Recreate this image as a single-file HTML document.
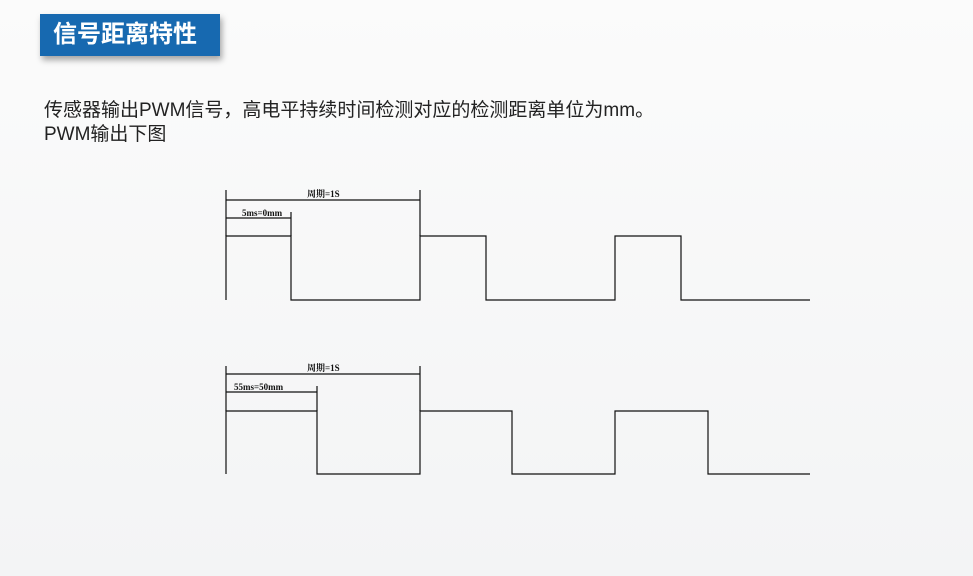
<!DOCTYPE html>
<html><head><meta charset="utf-8"><style>
body{margin:0;width:973px;height:576px;background:linear-gradient(#fbfbfb,#f3f4f5);position:relative;overflow:hidden;font-family:"Liberation Sans","Noto Sans CJK SC",sans-serif}
.t{position:absolute;left:40px;top:14px;width:180px;height:42px;background:#1769b0;color:#fff;font-size:24px;font-weight:bold;line-height:42px;padding-left:13px;box-sizing:border-box;box-shadow:2px 4px 6px rgba(0,0,0,.35)}
.p{position:absolute;left:44px;top:99px;font-size:19px;line-height:24px;color:#222}
svg{position:absolute;left:0;top:0}
</style></head><body>
<div class="t">信号距离特性</div>
<div class="p">传感器输出PWM信号，高电平持续时间检测对应的检测距离单位为mm。<br>PWM输出下图</div>
<svg width="973" height="576" font-family="Liberation Serif,Noto Serif CJK SC,serif" font-size="9" font-weight="bold" fill="#111">
<g stroke="#111" stroke-width="1.2" fill="none">
<path d="M226 300V236H291V300H420V236H486V300H615V236H681V300H810"/>
<path d="M226 190V236M420 190V236M291 212V236"/>
<path d="M226 200H420M226 218H291"/>
<path d="M226 474V411H317V474H420V411H512V474H615V411H708V474H810"/>
<path d="M226 366V411M420 366V411M317 386V411"/>
<path d="M226 374H420M226 392H317"/>
</g>
<text x="307" y="197">周期=1S</text>
<text x="242" y="216">5ms=0mm</text>
<text x="307" y="371">周期=1S</text>
<text x="234" y="390">55ms=50mm</text>
</svg>
</body></html>
